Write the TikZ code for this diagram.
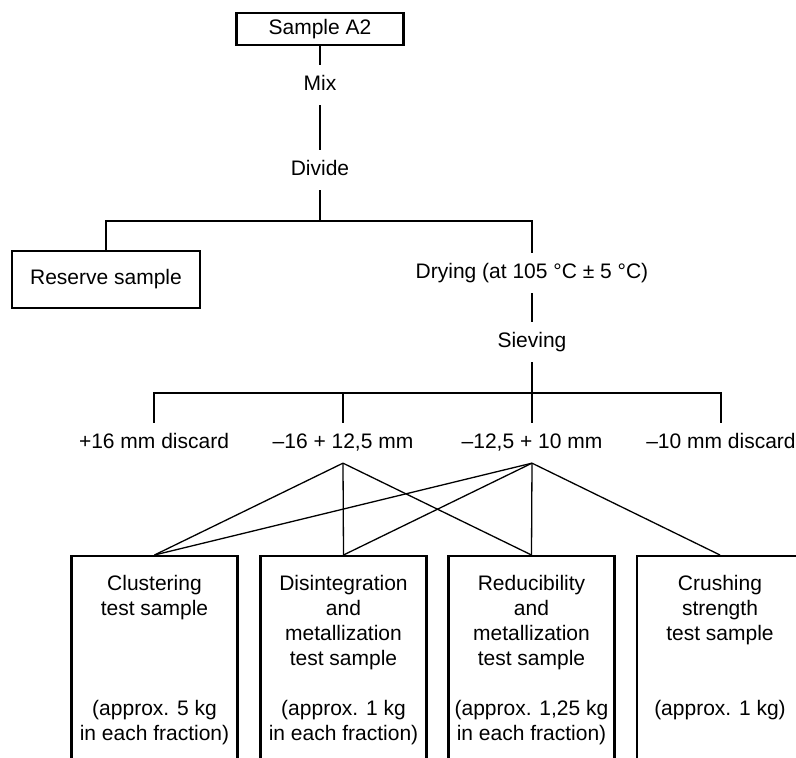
\documentclass[tikz,border=0pt]{standalone}
\usepackage{fontspec}
\setmainfont{Liberation Sans}

\begin{document}
\begin{tikzpicture}[x=1pt, y=-1pt, line width=1.3pt,
    every node/.style = {font=\fontsize{21}{25}\selectfont},
    samplebox/.style = {draw, line width=2.2pt, inner sep=0pt},
    stage/.style = {inner xsep=2pt, inner ysep=10pt,
      text height=15pt, text depth=4pt},
    testbox/.style = {draw, line width=2.2pt, anchor=north,
      minimum width=166pt, minimum height=230pt},
    boxtext/.style = {anchor=north, align=center, inner sep=0pt}]
  \useasboundingbox (0,0) rectangle (796,758);
  \node[samplebox, minimum width=167pt, minimum height=32pt] (sample) at (320,29) {Sample A2};
  \node[stage] (mix) at (320,85) {Mix};
  \node[stage] (divide) at (320,170) {Divide};
  \coordinate (split) at (320,221);
  \node[samplebox, minimum width=188pt, minimum height=57pt] (reserve) at (106,279.5) {Reserve sample};
  \node[stage] (drying) at (532,273) {Drying (at 105 °C ± 5 °C)};
  \node[stage] (sieving) at (532,342) {Sieving};
  \coordinate (sieve) at (532,393);
  \node[stage] (f1) at (154,443) {+16 mm discard};
  \node[stage] (f2) at (343,443) {–16 + 12,5 mm};
  \node[stage] (f3) at (532,443) {–12,5 + 10 mm};
  \node[stage] (f4) at (721,443) {–10 mm discard};
  \node[testbox] (c1) at (154.5,555) {};
  \node[testbox] (c2) at (343.5,555) {};
  \node[testbox] (c3) at (531.5,555) {};
  \node[testbox] (c4) at (720,555) {};
  \node[boxtext] (c1top) at (c1.north |- 0,574.5) {Clustering\\test sample};
  \node[boxtext] (c1bot) at (c1.north |- 0,700) {(approx. 5 kg\\in each fraction)};
  \node[boxtext] (c2top) at (c2.north |- 0,574.5) {Disintegration\\and\\metallization\\test sample};
  \node[boxtext] (c2bot) at (c2.north |- 0,700) {(approx. 1 kg\\in each fraction)};
  \node[boxtext] (c3top) at (c3.north |- 0,574.5) {Reducibility\\and\\metallization\\test sample};
  \node[boxtext] (c3bot) at (c3.north |- 0,700) {(approx. 1,25 kg\\in each fraction)};
  \node[boxtext] (c4top) at (c4.north |- 0,574.5) {Crushing\\strength\\test sample};
  \node[boxtext] (c4bot) at (c4.north |- 0,700) {(approx. 1 kg)};
  \draw (sample) -- (mix);
  \draw (mix) -- (divide);
  \draw (divide) -- (split);
  \draw (reserve.north) |- (split) -| (drying.north);
  \draw (drying) -- (sieving);
  \draw (sieving) -- (f3);
  \draw (f1.north) |- (sieve) -| (f4.north);
  \draw (f2.north) -- (f2.north |- sieve);
  \foreach \t in {c1,c2,c3}
    \draw (f2.south) -- (\t.north);
  \foreach \t in {c1,c2,c3,c4}
    \draw (f3.south) -- (\t.north);
\end{tikzpicture}
\end{document}
